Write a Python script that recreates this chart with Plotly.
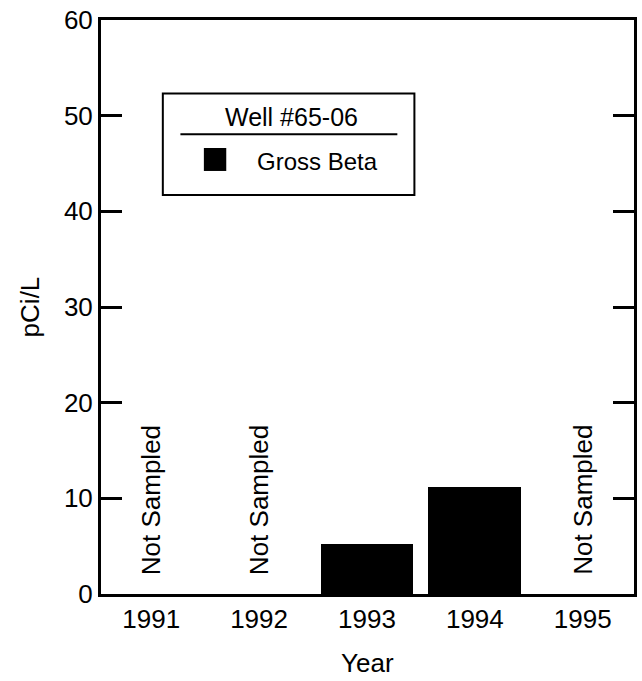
import plotly.graph_objects as go

# Gross beta results for well #65-06
years = [1991, 1992, 1993, 1994, 1995]
gross_beta = [None, None, 5.2, 11.2, None]
not_sampled_years = [1991, 1992, 1995]
y_ticks = [0, 10, 20, 30, 40, 50, 60]

FONT = "Liberation Sans, Arial, sans-serif"

fig = go.Figure()
fig.add_trace(go.Bar(
    x=years, y=gross_beta, width=0.86,
    marker=dict(color="black", line=dict(width=0)),
    name="Gross Beta", showlegend=False,
))

# "Not Sampled" labels, written vertically above the empty years
for yr in not_sampled_years:
    fig.add_annotation(
        x=yr, y=1.77, xref="x", yref="y", text="Not Sampled",
        textangle=-90, showarrow=False, xanchor="center", yanchor="bottom",
        font=dict(family=FONT, size=26, color="black"),
    )

# Legend box drawn in paper coordinates
legend_shapes = [
    dict(type="rect", xref="paper", yref="paper", x0=0.116, x1=0.588, y0=0.695, y1=0.872,
         line=dict(color="black", width=2), fillcolor="white", layer="above"),
    dict(type="line", xref="paper", yref="paper", x0=0.149, x1=0.556, y0=0.801, y1=0.801,
         line=dict(color="black", width=2)),
    dict(type="rect", xref="paper", yref="paper", x0=0.193, x1=0.235, y0=0.737, y1=0.777,
         line=dict(color="black", width=0), fillcolor="black"),
]
for s in legend_shapes:
    fig.add_shape(**s)

fig.add_annotation(x=0.358, y=0.831, xref="paper", yref="paper", text="Well #65-06",
                   showarrow=False, xanchor="center", yanchor="middle",
                   font=dict(family=FONT, size=25, color="black"))
fig.add_annotation(x=0.289, y=0.754, xref="paper", yref="paper", text="Gross Beta",
                   showarrow=False, xanchor="left", yanchor="middle",
                   font=dict(family=FONT, size=24, color="black"))

# Axis titles
fig.add_annotation(x=0.5, y=-0.12, xref="paper", yref="paper", text="Year",
                   showarrow=False, xanchor="center", yanchor="middle",
                   font=dict(family=FONT, size=26, color="black"))
fig.add_annotation(x=-0.1325, y=0.5, xref="paper", yref="paper", text="pCi/L",
                   textangle=-90, showarrow=False, xanchor="center", yanchor="middle",
                   font=dict(family=FONT, size=26, color="black"))

fig.update_layout(
    width=642, height=681,
    margin=dict(l=101, r=5, t=18, b=87),
    paper_bgcolor="white", plot_bgcolor="white",
    font=dict(family=FONT, size=26, color="black"),
    showlegend=False,
    bargap=0,
)
fig.update_xaxes(
    range=[1990.535, 1995.475], tickmode="array", tickvals=years,
    ticktext=[str(y) for y in years], ticks="",
    showline=True, linecolor="black", linewidth=3, mirror=True,
    showgrid=False, zeroline=False,
)
fig.update_yaxes(
    range=[0, 60], tickmode="array", tickvals=y_ticks,
    ticks="inside", ticklen=21, tickwidth=3, tickcolor="black",
    showline=True, linecolor="black", linewidth=3, mirror="ticks",
    showgrid=False, zeroline=False,
)

fig.write_html("out.html")
